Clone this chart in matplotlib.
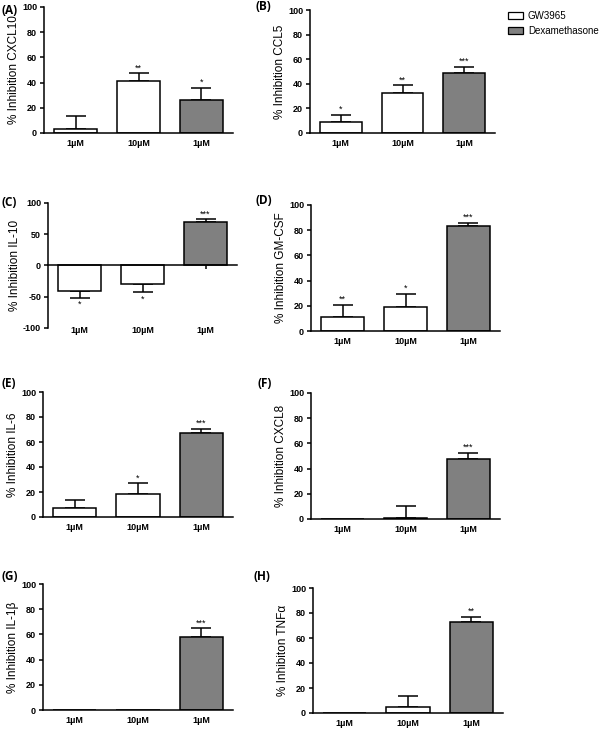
"""Eight bar panels: % inhibition of cytokines by GW3965 and dexamethasone."""

import matplotlib
matplotlib.use("Agg")
import matplotlib.pyplot as plt
from matplotlib.patches import Patch

plt.rcParams["font.family"] = ["Liberation Sans", "DejaVu Sans"]
plt.rcParams["axes.unicode_minus"] = False

conc_labels = ["1\u00b5M", "10\u00b5M", "1\u00b5M"]
treatments = ["GW3965", "GW3965", "Dexamethasone"]
colors = {"GW3965": "white", "Dexamethasone": "#808080"}

panel_ids = ["(A)", "(B)", "(C)", "(D)", "(E)", "(F)", "(G)", "(H)"]
ylabels = ["% Inhibition CXCL10", "% Inhibition CCL5", "% Inhibition IL-10",
           "% Inhibition GM-CSF", "% Inhibition IL-6", "% Inhibition CXCL8",
           "% Inhibition IL-1\u03b2", "% Inhibiton TNF\u03b1"]

means_a = [3, 41.5, 26.5]
err_a = [10.5, 6, 9.5]
stars_a = ["", "**", "*"]

means_b = [9, 32.5, 48.5]
err_b = [6, 6.5, 5.5]
stars_b = ["*", "**", "***"]

means_c = [-41, -30, 70]
err_c = [11, 13, 4]
stars_c = ["*", "*", "***"]

means_d = [11, 19, 83]
err_d = [10, 10.5, 3]
stars_d = ["**", "*", "***"]

means_e = [7.5, 18.5, 67]
err_e = [6, 8.5, 3.5]
stars_e = ["", "*", "***"]

means_f = [0, 0.5, 47.5]
err_f = [0, 9.5, 5]
stars_f = ["", "", "***"]

means_g = [0, 0, 58]
err_g = [0, 0, 7]
stars_g = ["", "", "***"]

means_h = [0, 4.5, 73]
err_h = [0, 9.5, 4]
stars_h = ["", "", "**"]

all_means = [means_a, means_b, means_c, means_d, means_e, means_f, means_g, means_h]
all_errs = [err_a, err_b, err_c, err_d, err_e, err_f, err_g, err_h]
all_stars = [stars_a, stars_b, stars_c, stars_d, stars_e, stars_f, stars_g, stars_h]

# axes boxes in pixels: (left, right, top, bottom)
boxes = [(44, 233, 7, 133), (310, 495, 10, 133),
         (48, 237, 203, 328), (311, 500, 205, 331),
         (43, 233, 392, 517), (311, 500, 393, 519),
         (43, 233, 584, 710), (313, 503, 588, 713)]
# panel letter anchors in pixels: (left, centre y)
letter_pos = [(1, 11), (256, 6), (2, 202), (256, 201),
              (2, 384), (257, 384), (2, 576), (254, 577)]
W, H = 600, 730


def draw_panel(fig, box, pid, lpos, ylabel, means, errs, stars, signed=False):
    x0, x1, yt, yb = box
    ax = fig.add_axes([x0 / W, 1 - yb / H, (x1 - x0) / W, (yb - yt) / H])
    xs = range(len(means))
    ax.bar(xs, means, width=0.68, color=[colors[t] for t in treatments],
           edgecolor="black", linewidth=1.1, zorder=2)
    for x, m, e, s in zip(xs, means, errs, stars):
        if e > 0:
            yerr = [[e], [0]] if m < 0 else [[0], [e]]
            ax.errorbar(x, m, yerr=yerr, fmt="none", ecolor="black",
                        elinewidth=1.1, capsize=7.5, capthick=1.1, zorder=1)
        if s:
            if m < 0:
                ax.annotate(s, (x, m - e), xytext=(0, -1.5), textcoords="offset points",
                            ha="center", va="top", fontsize=6.5)
            else:
                ax.annotate(s, (x, m + e), xytext=(0, 0.5), textcoords="offset points",
                            ha="center", va="bottom", fontsize=6.5)
    ax.set_xlim(-0.5, 2.5)
    for side in ("top", "right"):
        ax.spines[side].set_visible(False)
    ax.spines["left"].set_linewidth(1.1)
    ax.spines["bottom"].set_linewidth(1.1)
    ax.tick_params(axis="y", length=3, width=1.1, pad=2, labelsize=6.5)
    for lab in ax.get_yticklabels():
        lab.set_fontweight("bold")
    if signed:
        ax.set_ylim(-100, 100)
        ax.set_yticks([-100, -50, 0, 50, 100])
        ax.spines["bottom"].set_position(("data", 0))
        ax.set_xticks(list(xs))
        ax.tick_params(axis="x", length=3, width=1.1, labelbottom=False)
        for x, lab in zip(xs, conc_labels):
            ax.annotate(lab, (x, -100), xytext=(0, -2), textcoords="offset points",
                        ha="center", va="center", fontsize=6.5, fontweight="bold")
    else:
        ax.set_ylim(0, 100)
        ax.set_yticks([0, 20, 40, 60, 80, 100])
        ax.set_xticks(list(xs))
        ax.set_xticklabels(conc_labels, fontsize=6.5, fontweight="bold")
        ax.tick_params(axis="x", length=0, pad=4)
    ax.set_ylabel(ylabel, fontsize=8.5, labelpad=1.5)
    fig.text(lpos[0] / W, 1 - lpos[1] / H, pid, fontsize=8.5, fontweight="bold",
             family=["Open Sans", "DejaVu Sans"], ha="left", va="center")
    return ax


fig = plt.figure(figsize=(6, 7.3), dpi=100)
for i in range(8):
    draw_panel(fig, boxes[i], panel_ids[i], letter_pos[i], ylabels[i], all_means[i],
               all_errs[i], all_stars[i], signed=(i == 2))

handles = [Patch(facecolor=colors["GW3965"], edgecolor="black", linewidth=0.9),
           Patch(facecolor=colors["Dexamethasone"], edgecolor="black", linewidth=0.9)]
fig.legend(handles, ["GW3965", "Dexamethasone"], loc="upper left",
           bbox_to_anchor=(508 / W, 1 - 11 / H), frameon=False, fontsize=7,
           borderpad=0, borderaxespad=0, handlelength=1.55, handleheight=0.72,
           handletextpad=0.5, labelspacing=0.55)

fig.savefig("out.png", dpi=100)
